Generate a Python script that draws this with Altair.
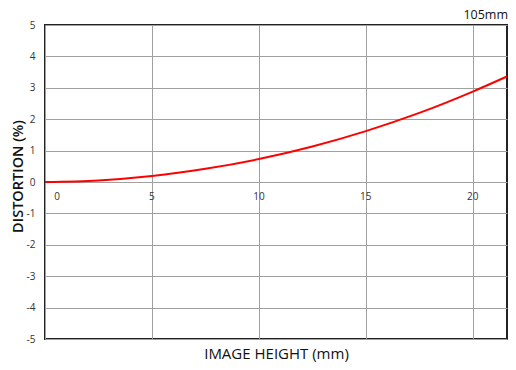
import altair as alt
import pandas as pd

# data
image_height = [0, 2.5, 5, 7.5, 10, 12.5, 15, 17.5, 20, 21.6]
distortion = [0, 0.05, 0.19, 0.42, 0.73, 1.13, 1.62, 2.20, 2.88, 3.36]
x_ticks = [0, 5, 10, 15, 20]
y_ticks = [-5, -4, -3, -2, -1, 0, 1, 2, 3, 4, 5]
x_domain = [0, 21.6]
y_domain = [-5, 5]

curve = pd.DataFrame({"h": image_height, "d": distortion})
labels = pd.DataFrame({"h": x_ticks, "d": [0] * len(x_ticks), "t": [str(v) for v in x_ticks]})

FONT = "Open Sans"

x_scale = alt.Scale(domain=x_domain, nice=False, zero=False)
y_scale = alt.Scale(domain=y_domain, nice=False)

x_axis = alt.Axis(values=x_ticks, labels=False, ticks=False, domain=False, grid=True,
                  gridColor="#a0a0a0", gridWidth=1, title="IMAGE HEIGHT (mm)",
                  titleFont=FONT, titleFontSize=15, titleFontWeight="normal",
                  titleColor="#111", titlePadding=7)
y_axis = alt.Axis(values=y_ticks, tickCount=len(y_ticks), ticks=False, domain=False, grid=True,
                  gridColor="#a0a0a0", gridWidth=1, labelPadding=10,
                  labelOverlap=False, labelBound=False,
                  labelExpr="'' + datum.value",
                  labelFont=FONT, labelFontSize=10, labelColor="#333",
                  title="DISTORTION (%)", titleFont=FONT, titleFontSize=14.5,
                  titleFontWeight=600, titleColor="#111",
                  titleX=-20, titleY=151)

line = alt.Chart(curve).mark_line(color="#ff0000", strokeWidth=2, interpolate="monotone").encode(
    x=alt.X("h:Q", scale=x_scale, axis=x_axis),
    y=alt.Y("d:Q", scale=y_scale, axis=y_axis),
)

base_text = alt.Chart(labels).encode(
    x=alt.X("h:Q", scale=x_scale, axis=x_axis),
    y=alt.Y("d:Q", scale=y_scale, axis=y_axis),
    text="t:N",
)
lab_rest = base_text.transform_filter("datum.h > 0").mark_text(
    font=FONT, fontSize=10, color="#333", dy=15, baseline="middle", align="center")
lab_zero = base_text.transform_filter("datum.h == 0").mark_text(
    font=FONT, fontSize=10, color="#333", dy=15, dx=12, baseline="middle", align="center")

chart = alt.layer(line, lab_rest, lab_zero).properties(
    width=462, height=314,
    autosize=alt.AutoSizeParams(type="none"),
    padding={"left": 37, "top": 17, "right": 1, "bottom": 23},
    title=alt.TitleParams("105mm", anchor="end", font=FONT, fontSize=12.5,
                          fontWeight="normal", color="#111", offset=-1, dx=-3),
).configure_view(stroke="#222", strokeWidth=2)

chart.save("out.html", embed_options={"renderer": "svg", "actions": False})
